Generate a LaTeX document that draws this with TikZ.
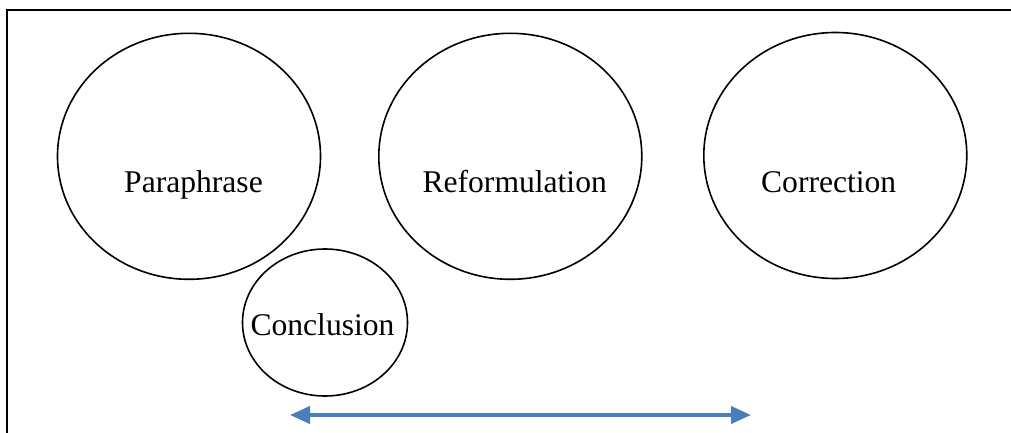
\documentclass[tikz,border=0pt]{standalone}
\usepackage{fontspec}
\setmainfont{Liberation Serif}
\usetikzlibrary{shapes.geometric,arrows.meta}
\definecolor{arrowblue}{RGB}{74,126,187}
\begin{document}
\begin{tikzpicture}[x=1pt,y=1pt,
  bubble/.style={draw=black,line width=1.6pt,ellipse,inner sep=0pt},
  label/.style={font=\fontsize{31.6}{36}\selectfont,inner sep=0pt,anchor=base},
  frameline/.style={line width=2.4pt,line cap=rect}]
\useasboundingbox (0,0) rectangle (1011,432);
% frame (top and left edges)
\coordinate (ftr) at (1015,422);
\coordinate (ftl) at (7,422);
\coordinate (fbl) at (7,-4);
\draw[frameline] (ftr) -- (ftl) -- (fbl);
% circles
\node[bubble,minimum width=263pt,minimum height=246pt] (para) at (189,275.7) {};
\node[bubble,minimum width=263pt,minimum height=246pt] (reform) at (510.3,275.7) {};
\node[bubble,minimum width=263pt,minimum height=246pt] (corr) at (835.3,276.5) {};
\node[bubble,minimum width=165pt,minimum height=147pt] (concl) at (325,109.5) {};
% texts
\node[label] (tpara) at (193.5,239.5) {Paraphrase};
\node[label] (treform) at (514.7,239.5) {Reformulation};
\node[label] (tcorr) at (828.7,239.5) {Correction};
\node[label] (tconcl) at (322.5,97) {Conclusion};
% double-headed arrow
\coordinate (al) at (290,17);
\coordinate (ar) at (751,17);
\draw[arrowblue,line width=4pt,{Triangle[length=20pt,width=17pt]}-{Triangle[length=20pt,width=17pt]}] (al) -- (ar);
\end{tikzpicture}
\end{document}
